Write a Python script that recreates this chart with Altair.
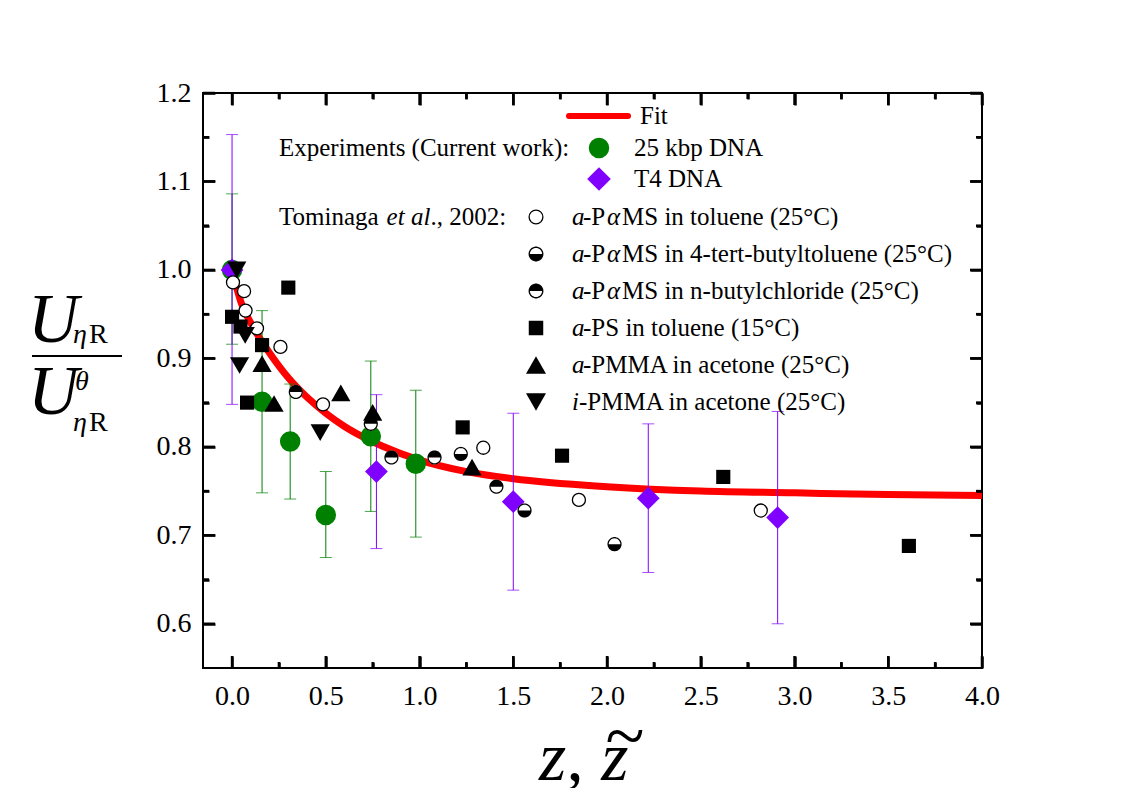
import altair as alt
import numpy as np
import pandas as pd

SERIF = "Liberation Serif"
W, H = 779, 575
X_DOMAIN = [-0.155, 4.0]
Y_DOMAIN = [0.55, 1.2]

GREEN = "#008000"
PURPLE = "#8000FF"
RED = "#FF0000"

# ---------------- data ----------------
fit_x = [0.0, 0.05, 0.1, 0.15, 0.2, 0.3, 0.4, 0.5, 0.6, 0.7, 0.8, 1.0, 1.25, 1.5, 2.0, 2.5, 3.0, 3.5, 4.0]
fit_y = [1.0, 0.962, 0.940, 0.922, 0.906, 0.878, 0.856, 0.838, 0.823, 0.811, 0.801, 0.785, 0.772, 0.764, 0.755, 0.750, 0.748, 0.746, 0.745]

kbp_x = [0.0, 0.16, 0.31, 0.50, 0.74, 0.98]
kbp_y = [1.0, 0.851, 0.806, 0.723, 0.812, 0.781]
kbp_lo = [0.916, 0.748, 0.741, 0.675, 0.727, 0.698]
kbp_hi = [1.086, 0.954, 0.871, 0.772, 0.897, 0.864]

t4_x = [0.0, 0.77, 1.50, 2.22, 2.91]
t4_y = [1.0, 0.772, 0.738, 0.742, 0.720]
t4_lo = [0.848, 0.685, 0.638, 0.658, 0.600]
t4_hi = [1.153, 0.859, 0.838, 0.826, 0.840]

tol_x = [0.005, 0.064, 0.072, 0.133, 0.258, 0.485, 1.34, 1.85, 2.82]
tol_y = [0.986, 0.976, 0.954, 0.934, 0.913, 0.848, 0.799, 0.740, 0.728]

tbt_x = [1.22, 1.56, 2.04]
tbt_y = [0.792, 0.728, 0.690]

nbc_x = [0.34, 0.74, 0.85, 1.08, 1.41]
nbc_y = [0.862, 0.826, 0.788, 0.788, 0.755]

ps_x = [0.0, 0.045, 0.16, 0.30, 0.08, 1.23, 1.76, 2.62, 3.61]
ps_y = [0.947, 0.936, 0.915, 0.980, 0.850, 0.822, 0.790, 0.766, 0.688]

apmma_x = [0.16, 0.224, 0.58, 0.75, 1.28]
apmma_y = [0.894, 0.849, 0.861, 0.839, 0.777]

ipmma_x = [0.025, 0.07, 0.04, 0.47]
ipmma_y = [1.0, 0.926, 0.892, 0.816]

x_major = [0.0, 0.5, 1.0, 1.5, 2.0, 2.5, 3.0, 3.5, 4.0]
x_minor = [0.25, 0.75, 1.25, 1.75, 2.25, 2.75, 3.25, 3.75]
y_major = [0.6, 0.7, 0.8, 0.9, 1.0, 1.1, 1.2]
y_minor = [0.65, 0.75, 0.85, 0.95, 1.05, 1.15]

fit_label = "Fit"
group_exp = "Experiments (Current work):"
kbp_label = "25 kbp DNA"
t4_label = "T4 DNA"
tom_parts = ["Tominaga ", "et al", "., 2002:"]
row_labels = [
    ["a", "-P", "α", "MS in toluene (25°C)"],
    ["a", "-P", "α", "MS in 4-tert-butyltoluene (25°C)"],
    ["a", "-P", "α", "MS in n-butylchloride (25°C)"],
    ["a", "-PS in toluene (15°C)"],
    ["a", "-PMMA in acetone (25°C)"],
    ["i", "-PMMA in acetone (25°C)"],
]

# ---------------- helpers ----------------
xs = alt.Scale(domain=X_DOMAIN, nice=False, zero=False)
ys = alt.Scale(domain=Y_DOMAIN, nice=False, zero=False)


def X(field="x", axis=None):
    return alt.X(f"{field}:Q", scale=xs, axis=axis)


def Y(field="y", axis=None):
    return alt.Y(f"{field}:Q", scale=ys, axis=axis)


def frame_axis(orient, values, length, labels, pad):
    # inward ticks: negative tick length given as an expression
    return alt.Axis(orient=orient, values=values, labels=labels, format=".1f", title=None,
                    grid=False, domain=False, ticks=True,
                    tickSize=alt.ExprRef(expr=str(-length)), tickWidth=2.5, tickColor="black",
                    labelPadding=pad, labelFont=SERIF, labelFontSize=28, labelColor="black",
                    labelFlush=False, labelOverlap=False, zindex=1)


def half_circle_path(top_filled, n=64, inner=0.82):
    t = np.linspace(0, 2 * np.pi, n, endpoint=False)
    outer = " L".join(f"{np.cos(a):.4f},{np.sin(a):.4f}" for a in t)
    inn = " L".join(f"{inner*np.cos(a):.4f},{inner*np.sin(a):.4f}" for a in t[::-1])
    if top_filled:
        th = np.linspace(np.pi, 2 * np.pi, n // 2 + 1)
    else:
        th = np.linspace(0, np.pi, n // 2 + 1)
    half = " L".join(f"{np.cos(a):.4f},{np.sin(a):.4f}" for a in th)
    return "M" + outer + " Z M" + inn + " Z M" + half + " Z"


PATH_BOTTOM = half_circle_path(False)
PATH_TOP = half_circle_path(True)

ONE = alt.Data(values=[{}])


def txt(s, x, y, size=25, style="normal", align="left", baseline="middle"):
    return alt.Chart(ONE).mark_text(text=s, font=SERIF, fontSize=size, fontStyle=style,
                                    align=align, baseline=baseline, color="black").encode(
        x=alt.value(x), y=alt.value(y))


def marker(x, y, **kw):
    return alt.Chart(ONE).mark_point(**kw).encode(x=alt.value(x), y=alt.value(y))


def df(xv, yv, **extra):
    d = {"x": xv, "y": yv}
    d.update(extra)
    return pd.DataFrame(d)


layers = []

# axis carriers: bottom/left with labels, top/right mirrored, plus minor ticks
fit_df = df(fit_x, fit_y)
for xo, yo, xv, yv, ln, lab in [
    ("bottom", "left", x_major, y_major, 12, True),
    ("top", "right", x_major, y_major, 12, False),
    ("bottom", "left", x_minor, y_minor, 6, False),
    ("top", "right", x_minor, y_minor, 6, False),
]:
    layers.append(alt.Chart(fit_df).mark_point(opacity=0).encode(
        x=X(axis=frame_axis(xo, xv, ln, lab, 26)),
        y=Y(axis=frame_axis(yo, yv, ln, lab, 24))))

# fit curve
layers.append(alt.Chart(fit_df).mark_line(color=RED, strokeWidth=7, interpolate="monotone").encode(
    x=X(), y=Y()))

# error bars
for xv, yv, lo, hi, col in [(kbp_x, kbp_y, kbp_lo, kbp_hi, GREEN), (t4_x, t4_y, t4_lo, t4_hi, PURPLE)]:
    d = df(xv, yv, lo=lo, hi=hi)
    layers.append(alt.Chart(d).mark_rule(color=col, strokeWidth=1).encode(x=X(), y=Y("lo"), y2="hi:Q"))
    layers.append(alt.Chart(d).mark_tick(color=col, thickness=1, size=12, orient="horizontal").encode(x=X(), y=Y("lo")))
    layers.append(alt.Chart(d).mark_tick(color=col, thickness=1, size=12, orient="horizontal").encode(x=X(), y=Y("hi")))

# DNA markers
layers.append(alt.Chart(df(kbp_x, kbp_y)).mark_point(shape="circle", filled=True, color=GREEN, size=420, opacity=1).encode(x=X(), y=Y()))
layers.append(alt.Chart(df(t4_x, t4_y)).mark_point(shape="diamond", filled=True, color=PURPLE, size=520, opacity=1).encode(x=X(), y=Y()))

# Tominaga markers
layers.append(alt.Chart(df(tol_x, tol_y)).mark_point(shape="circle", filled=True, fill="white", stroke="black", strokeWidth=1.3, size=170, opacity=1).encode(x=X(), y=Y()))
layers.append(alt.Chart(df(tbt_x, tbt_y)).mark_point(shape="circle", filled=True, fill="white", size=200, opacity=1).encode(x=X(), y=Y()))
layers.append(alt.Chart(df(tbt_x, tbt_y)).mark_point(shape=PATH_BOTTOM, filled=True, color="black", size=200, opacity=1).encode(x=X(), y=Y()))
layers.append(alt.Chart(df(nbc_x, nbc_y)).mark_point(shape="circle", filled=True, fill="white", size=200, opacity=1).encode(x=X(), y=Y()))
layers.append(alt.Chart(df(nbc_x, nbc_y)).mark_point(shape=PATH_TOP, filled=True, color="black", size=200, opacity=1).encode(x=X(), y=Y()))
layers.append(alt.Chart(df(ps_x, ps_y)).mark_point(shape="square", filled=True, color="black", size=200, opacity=1).encode(x=X(), y=Y()))
layers.append(alt.Chart(df(apmma_x, apmma_y)).mark_point(shape="triangle-up", filled=True, color="black", size=370, opacity=1).encode(x=X(), y=Y()))
layers.append(alt.Chart(df(ipmma_x, ipmma_y)).mark_point(shape="triangle-down", filled=True, color="black", size=370, opacity=1).encode(x=X(), y=Y()))

# inward frame ticks also drawn as filled bars (tick length converted from pixels to data units)
px_y = (Y_DOMAIN[1] - Y_DOMAIN[0]) / H
px_x = (X_DOMAIN[1] - X_DOMAIN[0]) / W
for vals, length in ((x_major, 12), (x_minor, 6)):
    for a, b in ((Y_DOMAIN[0], Y_DOMAIN[0] + length * px_y), (Y_DOMAIN[1] - length * px_y, Y_DOMAIN[1])):
        recs = [{"c": v, "x0": v - 1.25 * px_x, "x1": v + 1.25 * px_x, "y0": a, "y1": b} for v in vals]
        layers.append(alt.Chart(alt.Data(values=recs)).mark_rect(color="black", opacity=1).encode(
            x=X("x0"), x2="x1:Q", y=Y("y0"), y2="y1:Q"))
for vals, length in ((y_major, 12), (y_minor, 6)):
    for a, b in ((X_DOMAIN[0], X_DOMAIN[0] + length * px_x), (X_DOMAIN[1] - length * px_x, X_DOMAIN[1])):
        recs = [{"c": v, "y0": v - 1.25 * px_y, "y1": v + 1.25 * px_y, "x0": a, "x1": b} for v in vals]
        layers.append(alt.Chart(alt.Data(values=recs)).mark_rect(color="black", opacity=1).encode(
            x=X("x0"), x2="x1:Q", y=Y("y0"), y2="y1:Q"))

# ---------------- legend ----------------
layers.append(alt.Chart(ONE).mark_rule(color=RED, strokeWidth=6, strokeCap="round").encode(
    x=alt.value(366), x2=alt.value(425), y=alt.value(23)))
layers.append(txt(fit_label, 437, 23))
layers.append(txt(group_exp, 76, 55))
layers.append(marker(396, 55, shape="circle", filled=True, color=GREEN, size=420, opacity=1))
layers.append(txt(kbp_label, 431, 55))
layers.append(marker(396, 86, shape="diamond", filled=True, color=PURPLE, size=560, opacity=1))
layers.append(txt(t4_label, 431, 86))

layers.append(txt(tom_parts[0], 76, 124))
layers.append(txt(tom_parts[1], 183.6, 124, style="italic"))
layers.append(txt(tom_parts[2], 227.4, 124))

row_y = [124, 161, 198, 235, 272, 309]
row_markers = [
    dict(shape="circle", filled=True, fill="white", stroke="black", strokeWidth=1.3, size=190, opacity=1),
    None, None,
    dict(shape="square", filled=True, color="black", size=210, opacity=1),
    dict(shape="triangle-up", filled=True, color="black", size=400, opacity=1),
    dict(shape="triangle-down", filled=True, color="black", size=400, opacity=1),
]
for i, (ry, parts) in enumerate(zip(row_y, row_labels)):
    if i == 1:
        layers.append(marker(333, ry, shape="circle", filled=True, fill="white", size=220, opacity=1))
        layers.append(marker(333, ry, shape=PATH_BOTTOM, filled=True, color="black", size=220, opacity=1))
    elif i == 2:
        layers.append(marker(333, ry, shape="circle", filled=True, fill="white", size=220, opacity=1))
        layers.append(marker(333, ry, shape=PATH_TOP, filled=True, color="black", size=220, opacity=1))
    else:
        layers.append(marker(333, ry, **row_markers[i]))
    layers.append(txt(parts[0], 369, ry, style="italic"))
    if len(parts) == 4:
        layers.append(txt(parts[1], 380, ry))
        layers.append(txt(parts[2], 404, ry, style="italic"))
        layers.append(txt(parts[3], 419, ry))
    else:
        off = 380 if parts[0] == "a" else 376
        layers.append(txt(parts[1], off, ry))

# ---------------- axis titles ----------------
# y: U_ηR / U^θ_ηR
layers.append(txt("U", -175, 249, size=70, style="italic", baseline="alphabetic"))
layers.append(txt("η", -130, 250, size=28, style="italic", baseline="alphabetic"))
layers.append(txt("R", -114, 250, size=28, baseline="alphabetic"))
layers.append(alt.Chart(ONE).mark_rule(color="black", strokeWidth=2).encode(
    x=alt.value(-171), x2=alt.value(-81), y=alt.value(263)))
layers.append(txt("U", -175, 321, size=70, style="italic", baseline="alphabetic"))
layers.append(txt("θ", -128, 297, size=28, style="italic", baseline="alphabetic"))
layers.append(txt("η", -130, 338, size=28, style="italic", baseline="alphabetic"))
layers.append(txt("R", -114, 338, size=28, baseline="alphabetic"))
# x: z, z~
layers.append(txt("z, z", 336, 687, size=70, style="italic", baseline="alphabetic"))
layers.append(txt("~", 422, 667, size=72, align="center", baseline="alphabetic"))

chart = alt.layer(*layers).resolve_axis(x="independent", y="independent").properties(
    width=W, height=H,
    autosize=alt.AutoSizeParams(type="none"),
    padding={"left": 195, "top": 85, "right": 20, "bottom": 120},
    background="white",
).configure_view(stroke="black", strokeWidth=2)

chart.save("out.html", embed_options={"renderer": "svg", "actions": False})
